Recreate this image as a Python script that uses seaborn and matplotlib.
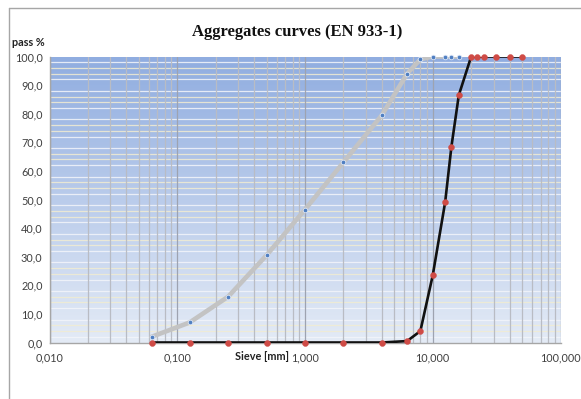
import numpy as np
import pandas as pd
import matplotlib
matplotlib.use("Agg")
import matplotlib.pyplot as plt
from matplotlib.ticker import FuncFormatter, LogLocator, MultipleLocator, NullFormatter
from matplotlib.lines import Line2D
import seaborn as sns

# ---- data ----
sand_sieves = [0.063, 0.125, 0.25, 0.5, 1, 2, 4, 6.3, 8, 10, 12.5, 14, 16]
sand_pass = [2.0, 7.0, 16.0, 30.5, 46.5, 63.0, 79.5, 94.0, 99.0, 100.0, 100.0, 100.0, 100.0]

gravel_sieves = [0.063, 0.125, 0.25, 0.5, 1, 2, 4, 6.3, 8, 10, 12.5, 14, 16, 20, 22.4, 25, 31.5, 40, 50]
gravel_pass = [0.0, 0.0, 0.0, 0.0, 0.0, 0.0, 0.0, 0.5, 4.0, 23.5, 49.0, 68.5, 86.5, 100.0, 100.0, 100.0, 100.0, 100.0, 100.0]

x_ticks = [0.01, 0.1, 1, 10, 100]
y_ticks = [0, 10, 20, 30, 40, 50, 60, 70, 80, 90, 100]

title = "Aggregates curves (EN 933-1)"
y_label = "pass %"
x_label = "Sieve [mm]"

# ---- figure ----
sns.set_style("white")
plt.rcParams["font.family"] = ["Lato", "DejaVu Sans"]

W, H = 581, 399
fig = plt.figure(figsize=(W / 100, H / 100), dpi=100)

L, R, T, B = 49.5, 560.5, 56.5, 342.5
pos = [L / W, 1 - B / H, (R - L) / W, (B - T) / H]

# gradient background
bg = fig.add_axes(pos, zorder=0)
grad = np.linspace(0, 1, 256).reshape(-1, 1)
cmap = matplotlib.colors.LinearSegmentedColormap.from_list("g", ["#90ade0", "#e4ebf6"])
bg.imshow(grad, aspect="auto", cmap=cmap, extent=[0, 1, 0, 1], origin="upper")
bg.set_axis_off()

ax = fig.add_axes(pos, zorder=1)
ax.set_facecolor("none")

df_sand = pd.DataFrame({"sieve": sand_sieves, "pass": sand_pass})
df_grav = pd.DataFrame({"sieve": gravel_sieves, "pass": gravel_pass})

sns.lineplot(data=df_sand, x="sieve", y="pass", ax=ax, color="#c3c3c3", lw=3.3,
             sort=False, estimator=None, zorder=3)
sns.lineplot(data=df_sand, x="sieve", y="pass", ax=ax, color="none", lw=0,
             marker="o", markersize=3.3, markerfacecolor="#4f7fc2",
             markeredgecolor="#dde6f5", markeredgewidth=0.6,
             sort=False, estimator=None, zorder=4, clip_on=False)
sns.lineplot(data=df_grav, x="sieve", y="pass", ax=ax, color="#111111", lw=1.9,
             sort=False, estimator=None, zorder=5)
sns.lineplot(data=df_grav, x="sieve", y="pass", ax=ax, color="none", lw=0,
             marker="o", markersize=4.3, markerfacecolor="#cf4b46",
             markeredgecolor="#cf4b46", markeredgewidth=0.3,
             sort=False, estimator=None, zorder=6, clip_on=False)

ax.set_xscale("log")
ax.set_xlim(0.01, 100)
ax.set_ylim(0, 100)

ax.set_xticks(x_ticks)
ax.xaxis.set_major_formatter(FuncFormatter(lambda v, p: f"{v:.3f}".replace(".", ",")))
ax.xaxis.set_minor_locator(LogLocator(base=10, subs=np.arange(2, 10)))
ax.xaxis.set_minor_formatter(NullFormatter())
ax.set_yticks(y_ticks)
ax.yaxis.set_major_formatter(FuncFormatter(lambda v, p: f"{v:.1f}".replace(".", ",")))
ax.yaxis.set_minor_locator(MultipleLocator(2))

ax.grid(False)
# horizontal minor grid lines (under the vertical ones), none on the 10-multiples
for yv in ax.yaxis.get_minorticklocs():
    r = round(yv) % 10
    if 0 < yv < 100 and r != 0:
        col = "#f3f5fa" if r in (2, 8) else "#f1ecd2"
        ax.axhline(yv, color=col, lw=0.9, alpha=0.85, zorder=0.5)
ax.grid(which="major", axis="x", color="#9ea3b0", lw=0.9, zorder=1)
ax.grid(which="minor", axis="x", color="#b9bcc4", lw=0.9, zorder=1)
ax.set_axisbelow(True)

for s in ["top", "right"]:
    ax.spines[s].set_visible(False)
for s in ["left", "bottom"]:
    ax.spines[s].set_color("#a6a6a6")
    ax.spines[s].set_linewidth(1.0)
    ax.spines[s].set_zorder(2)

ax.tick_params(axis="both", which="major", length=3, width=0.8, color="#a6a6a6",
               labelsize=7.8, labelcolor="#404040")
ax.tick_params(axis="x", which="major", pad=4)
ax.tick_params(axis="y", which="major", pad=2)
ax.tick_params(which="minor", length=0)

ax.set_xlabel("")
ax.set_ylabel("")

fig.text(262 / W, 1 - 357 / H, x_label, ha="center", va="center",
         fontsize=7.8, fontweight="bold", color="#222222")
fig.text(12 / W, 1 - 43 / H, y_label, ha="left", va="center",
         fontsize=7.8, fontweight="bold", color="#222222")
fig.text(297 / W, 1 - 32 / H, title, ha="center", va="center",
         fontsize=12, fontweight="bold", color="#111111",
         family=["Liberation Serif", "DejaVu Serif"])

# chart area border (partially visible)
fig.add_artist(Line2D([8.5 / W, 8.5 / W], [0, 1 - 7.5 / H], transform=fig.transFigure,
                      color="#a6a6a6", lw=1.0))
fig.add_artist(Line2D([8.5 / W, 1], [1 - 7.5 / H, 1 - 7.5 / H], transform=fig.transFigure,
                      color="#a6a6a6", lw=1.0))

fig.savefig("out.png", dpi=100, facecolor="white")
